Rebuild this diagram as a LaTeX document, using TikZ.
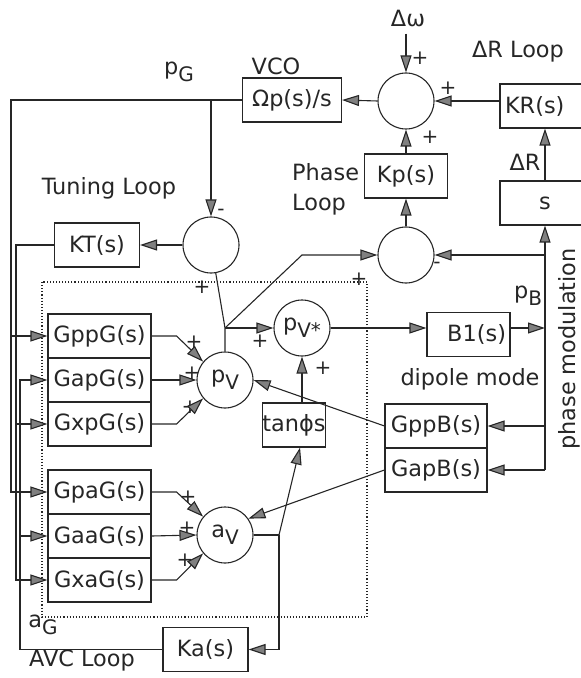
\documentclass[tikz,border=0pt]{standalone}
\usepackage{fontspec}
\setmainfont{DejaVu Sans}
\usetikzlibrary{arrows.meta}
\newcommand{\lowsub}[1]{\raisebox{-0.55ex}{\fontsize{10}{10}\selectfont #1}}

\begin{document}
\begin{tikzpicture}[>={Triangle[length=8.5pt,width=5.5pt,fill=black!50]},x=0.5pt,y=-0.5pt,
  font=\fontsize{11.2}{13.5}\selectfont,line width=0.55pt,color=black!85,
  blk/.style={draw,minimum width=#1,minimum height=22pt,inner sep=1pt},
  sumc/.style={draw,circle,minimum size=28pt,inner sep=0pt},
  sgn/.style={inner sep=0pt,font=\fontsize{10}{10}\selectfont}]
\clip (0,0) rectangle (581,678);
\node (vco) [blk=49.5pt] at (292,100) {Ωp(s)/s};
\node (vcol) at (276,66) {VCO};
\node (sumt) [sumc] at (406,101) {};
\node (dw) at (408,18) {Δω};
\node (kr) [blk=45pt,text width=40pt,inner xsep=2.5pt,align=left] at (545,106) {KR(s)};
\node (drl) at (518,52) {ΔR Loop};
\node (kp) [blk=41.5pt] at (406,176) {Kp(s)};
\node (phl) [anchor=west] at (285,172) {Phase};
\node (lpl) [anchor=west] at (285,205) {Loop};
\node (sbox) [blk=45pt] at (545,203) {s};
\node (drs) at (525,162) {ΔR};
\node (sump) [sumc] at (406,255) {};
\node (sumtun) [sumc] at (211,245) {};
\node (kt) [blk=42.5pt] at (97,245) {KT(s)};
\node (tunl) at (109,188) {Tuning Loop};
\node (pgl) at (179,72) {p\lowsub{G}};
\node (gppg) [blk=51.5pt] at (99.5,336) {GppG(s)};
\node (gapg) [blk=51.5pt] at (99.5,380) {GapG(s)};
\node (gxpg) [blk=51.5pt] at (99.5,424) {GxpG(s)};
\node (gpag) [blk=51.5pt] at (99.5,492) {GpaG(s)};
\node (gaag) [blk=51.5pt] at (99.5,536) {GaaG(s)};
\node (gxag) [blk=51.5pt] at (99.5,580) {GxaG(s)};
\node (pv) [sumc] at (225,380) {p\lowsub{V}};
\node (av) [sumc] at (225,535) {a\lowsub{V}};
\node (pvs) [sumc] at (302,328) {p\lowsub{V*}};
\node (tan) [blk=31pt,inner xsep=0pt] at (294,425) {tanϕs};
\node (b1) [blk=41.5pt,text width=37.5pt,inner xsep=2pt,align=right] at (468.5,334.5) {B1(s)};
\node (pbl) at (528,296) {p\lowsub{B}};
\node (dipl) at (470,379) {dipole mode};
\node (pmodl) [rotate=90] at (569,349) {phase modulation};
\node (gppb) [blk=51pt] at (436,426) {GppB(s)};
\node (gapb) [blk=51pt] at (436,470) {GapB(s)};
\node (ka) [blk=42.5pt] at (205.5,649.5) {Ka(s)};
\node (agl) at (43,625) {a\lowsub{G}};
\node (avcl) at (82,661) {AVC Loop};
\node (p1) [sgn] at (420,58) {+};
\node (p2) [sgn] at (448,88) {+};
\node (p3) [sgn] at (430,137) {+};
\node (m1) [sgn] at (221,212) {-};
\node (p4) [sgn] at (202,287) {+};
\node (p5) [sgn] at (359,279) {+};
\node (m2) [sgn] at (437,265) {-};
\node (p6) [sgn] at (260,341) {+};
\node (p7) [sgn] at (323,368) {+};
\node (p8) [sgn] at (194,342) {+};
\node (p9) [sgn] at (192,373) {+};
\node (p10) [sgn] at (190,407) {+};
\node (p11) [sgn] at (188,497) {+};
\node (p12) [sgn] at (187,528) {+};
\node (p13) [sgn] at (185,560) {+};
\coordinate (pgc) at (11,100);
\coordinate (ktc) at (16,245);
\coordinate (agc) at (20,649.5);
\coordinate (pm) at (545,470);
\coordinate (pvj) at (225,328);
\coordinate (pvk) at (302,255);
\coordinate (avj) at (279,535);
\draw[densely dotted] (42,282) rectangle (367,617);
\draw[->] (dw.south -| sumt.north) -- (sumt.north);
\draw[->] (kr.west |- sumt) -- (sumt.east);
\draw[->] (sumt.west) -- (vco.east);
\draw[->] (kp.north) -- (sumt.south);
\draw[->] (sump.north) -- (kp.south);
\draw[->] (sbox.north) -- (kr.south);
\draw[->] (pm) -- (sbox.south);
\draw[->] (pm) -- (gapb.east);
\draw[->] (pm |- gppb) -- (gppb.east);
\draw[->] (pm |- sump) -- (sump.east);
\draw[->] (b1.east |- pvs) -- (pm |- pvs);
\draw[->] (vco.west) -- (pgc) |- (gpag.west);
\draw[->] (pgc |- gppg) -- (gppg.west);
\draw[->] (sumtun.north |- pgc) -- (sumtun.north);
\draw[->] (sumtun.west) -- (kt.east);
\draw[->] (kt.west) -- (ktc) |- (gxag.west);
\draw[->] (ktc |- gxpg) -- (gxpg.west);
\draw[->] (ka.west) -- (agc) |- (gapg.west);
\draw[->] (agc |- gaag) -- (gaag.west);
\draw[->] (gppg.east) -- ++(25,0) -- (pv.140);
\draw[->] (gapg.east) -- (pv.west);
\draw[->] (gxpg.east) -- ++(25,0) -- (pv.220);
\draw[->] (gpag.east) -- ++(25,0) -- (av.140);
\draw[->] (gaag.east) -- (av.west);
\draw[->] (gxag.east) -- ++(25,0) -- (av.220);
\draw (pv.north) -- (pvj) -- (sumtun);
\draw[->] (pvj) -- (pvs.west);
\draw[->] (pvj) -- (pvk) -- (sump.west);
\draw[->] (pvs.east) -- (pvs.east -| b1.west);
\draw[->] (tan.north -| pvs) -- (pvs.south);
\draw[->] (gppb.west) -- (pv.east);
\draw[->] (gapb.west) -- (av.35);
\draw (av.east) -- (avj);
\draw[->] (avj) -- (tan.-75);
\draw[->] (avj) |- (ka.east);
\end{tikzpicture}
\end{document}
